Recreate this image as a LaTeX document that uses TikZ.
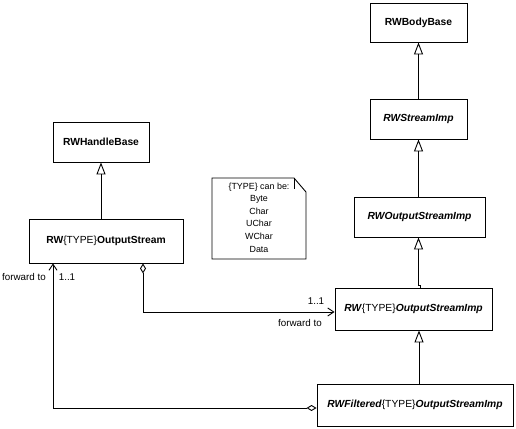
\documentclass[tikz,border=0pt]{standalone}
\usepackage{fontspec}
\setmainfont{Liberation Sans}
\usetikzlibrary{arrows.meta}
\begin{document}
\begin{tikzpicture}[x=1pt,y=-1pt,
  cls/.style={draw,line width=0.9pt,inner sep=0pt,font=\fontsize{10.3}{12}\selectfont},
  lbl/.style={inner sep=0pt,font=\fontsize{9.8}{12}\selectfont},
  gen/.style={line width=0.9pt,-{Triangle[open,length=12pt,width=9pt]}},
  agg/.style={line width=0.9pt,{Diamond[open,length=10pt,width=6pt]}-{Straight Barb[length=6pt,width=8pt]}}]
\useasboundingbox (0,0) rectangle (516,428);
% classes
\node[cls,minimum width=97pt,minimum height=39pt] (bb) at (418.5,22.5) {\textbf{RWBodyBase}};
\node[cls,minimum width=97pt,minimum height=40pt] (si) at (418.5,119) {\textbf{\textit{RWStreamImp}}};
\node[cls,minimum width=131pt,minimum height=40pt] (osr) at (419.5,217) {\textbf{\textit{RWOutputStreamImp}}};
\node[cls,minimum width=157pt,minimum height=42pt] (osi) at (413.5,309) {\textbf{\textit{RW}}\{TYPE\}\textbf{\textit{OutputStreamImp}}};
\node[cls,minimum width=196pt,minimum height=42pt] (filt) at (415,405) {\textbf{\textit{RWFiltered}}\{TYPE\}\textbf{\textit{OutputStreamImp}}};
\node[cls,minimum width=96pt,minimum height=40pt] (hb) at (101,142) {\textbf{RWHandleBase}};
\node[cls,minimum width=154pt,minimum height=44pt] (os) at (106,241) {\textbf{RW}\{TYPE\}\textbf{OutputStream}};
% note
\draw[line width=0.9pt] (212,178) -- (294,178) -- (306,192) -- (306,259) -- (212,259) -- cycle;
\draw[line width=0.9pt] (294,178) -- (294,189);
\node[inner sep=0pt,align=center,font=\fontsize{8.9}{12.6}\selectfont] (note) at (259,217.5)
  {\{TYPE\} can be:\\Byte\\Char\\UChar\\WChar\\Data};
% generalizations
\draw[gen] (si.north) -- (bb.south);
\draw[gen] (osr.north -| si.south) -- (si.south);
\coordinate (j1) at ([xshift=6.5pt]osi.north);
\draw[gen] (j1) -- ++(0,-2) -| (osr.south -| si.south);
\coordinate (c2) at ([xshift=5.5pt]osi.south);
\draw[gen] (filt.north -| c2) -- (c2);
\draw[gen] (hb.south |- os.north) -- (hb.south);
% associations
\coordinate (a1) at ([xshift=37pt]os.south);
\coordinate (a1e) at ([yshift=-3pt]osi.west);
\draw[agg] (a1) |- (a1e);
\coordinate (a2) at ([yshift=-3pt]filt.west);
\coordinate (a2e) at ([xshift=-53pt]os.south);
\draw[agg] (a2) -| (a2e);
% labels
\node[lbl] (l1) at (316,301) {1..1};
\node[lbl] (l2) at (300,323) {forward to};
\node[lbl] (l3) at (24,277) {forward to};
\node[lbl] (l4) at (67,277) {1..1};
\end{tikzpicture}
\end{document}
